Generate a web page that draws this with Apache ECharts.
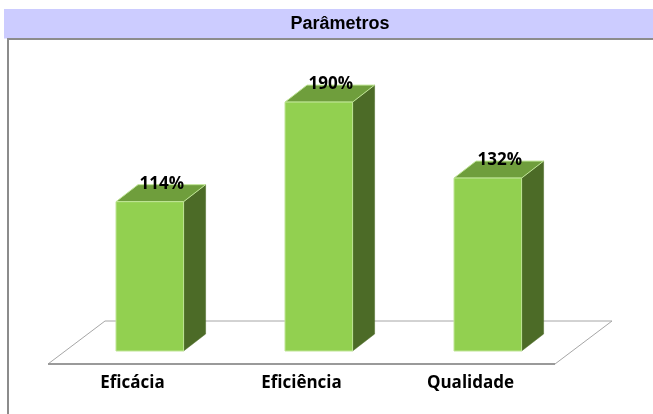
<!DOCTYPE html>
<html>
<head>
<meta charset="utf-8">
<script src="https://cdn.jsdelivr.net/npm/echarts@6/dist/echarts.min.js"></script>
<style>
  html, body { margin: 0; padding: 0; background: #ffffff; }
  #chart { width: 653px; height: 414px; }
</style>
</head>
<body>
<div id="chart"></div>
<script>
const categories = ['Eficácia', 'Eficiência', 'Qualidade'];
const values = [114, 190, 132];
const valueLabels = ['114%', '190%', '132%'];
const chartTitle = 'Parâmetros';

const chart = echarts.init(document.getElementById('chart'), null, { renderer: 'canvas' });

const FRONT = '#92D050';
const TOP = '#6F9E3C';
const SIDE = '#4C6B27';
const EDGE = '#BFE596';

function renderFloor(params, api) {
  const cs = params.coordSys;
  const x0 = cs.x, x1 = cs.x + cs.width, y = cs.y + cs.height;
  const dx = 57, dy = -43;
  return {
    type: 'group',
    children: [
      { type: 'polygon', shape: { points: [[x0, y], [x1, y], [x1 + dx, y + dy], [x0 + dx, y + dy]] },
        style: { fill: '#ffffff', stroke: '#A6A6A6', lineWidth: 1 } },
      { type: 'line', shape: { x1: x0, y1: y, x2: x1, y2: y },
        style: { stroke: '#9A9A9A', lineWidth: 2 } }
    ]
  };
}

function renderBar(params, api) {
  const idx = api.value(0);
  const v = api.value(1);
  const base = api.coord([idx, 0]);
  const top = api.coord([idx, v]);
  const band = api.size([1, 0])[0];
  const w = band * 0.4;
  const ox = 17.3, oy = -13;
  const dx = 22, dy = -17;
  const x0 = base[0] + ox - w / 2, x1 = x0 + w;
  const yb = base[1] + oy, yt = top[1] + oy;
  return {
    type: 'group',
    children: [
      { type: 'polygon', shape: { points: [[x1, yb], [x1 + dx, yb + dy], [x1 + dx, yt + dy], [x1, yt]] },
        style: { fill: SIDE, stroke: SIDE, lineWidth: 0.5 } },
      { type: 'polygon', shape: { points: [[x0, yt], [x1, yt], [x1 + dx, yt + dy], [x0 + dx, yt + dy]] },
        style: { fill: TOP, stroke: EDGE, lineWidth: 1 } },
      { type: 'rect', shape: { x: x0, y: yt, width: w, height: yb - yt },
        style: { fill: FRONT, stroke: EDGE, lineWidth: 1 } },
      { type: 'text', x: base[0] + ox + 12, y: yt - 17.5,
        style: { text: valueLabels[params.dataIndex], fill: '#000000',
          font: 'bold 17px "Open Sans"', align: 'center', verticalAlign: 'middle' } }
    ]
  };
}

const option = {
  animation: false,
  backgroundColor: '#ffffff',
  graphic: [
    { type: 'rect', shape: { x: 4, y: 9, width: 649, height: 29.5 }, style: { fill: '#CCCCFF' }, z: 0 },
    { type: 'line', shape: { x1: 8, y1: 39, x2: 653, y2: 39 }, style: { stroke: '#8C8C8C', lineWidth: 2 }, z: 0 },
    { type: 'line', shape: { x1: 8, y1: 38, x2: 8, y2: 414 }, style: { stroke: '#8C8C8C', lineWidth: 2 }, z: 0 },
    { type: 'text', x: 340, y: 24, z: 1,
      style: { text: chartTitle, fill: '#000000', font: 'bold 18px "Liberation Sans"',
        align: 'center', verticalAlign: 'middle' } }
  ],
  grid: { left: 48, right: 98, top: 102, bottom: 50 },
  xAxis: {
    type: 'category',
    data: categories,
    axisLine: { show: false },
    axisTick: { show: false },
    axisLabel: { margin: 11, color: '#000000', fontFamily: 'Open Sans', fontWeight: 'bold', fontSize: 17 }
  },
  yAxis: { type: 'value', min: 0, max: 200, show: false, splitLine: { show: false } },
  series: [
    { type: 'custom', renderItem: renderFloor, data: [[0, 0]], z: 1, silent: true },
    { type: 'custom', renderItem: renderBar, data: values.map((v, i) => [i, v]), z: 2 }
  ]
};
chart.setOption(option);
</script>
</body>
</html>
